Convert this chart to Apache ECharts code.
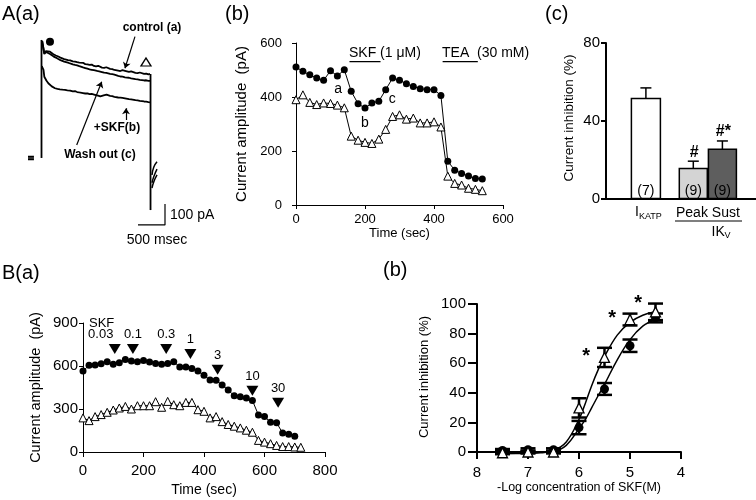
<!DOCTYPE html>
<html>
<head>
<meta charset="utf-8">
<script src="https://cdn.jsdelivr.net/npm/echarts@6.0.0/dist/echarts.min.js"></script>
<style>
html, body { margin: 0; padding: 0; background: #fff; }
#main { width: 756px; height: 500px; }
</style>
</head>
<body>
<div id="main"></div>
<script>
var FONT = "'Liberation Sans', Arial, sans-serif";

// ---- A(a) raw traces, time (ms) vs current (pA) ----
var ctrlT = [262, 302, 333, 370, 407, 440, 470, 515, 561, 600, 630, 670, 704, 740, 780, 830, 870, 910, 950, 985, 1019, 1060, 1100, 1140, 1180, 1220, 1260, 1300, 1333, 1370, 1410, 1450, 1481, 1520, 1560, 1600, 1630, 1670, 1710, 1750, 1796, 1830, 1870, 1910, 1944, 1990, 2030, 2070, 2106, 2150, 2190, 2230, 2259];
var ctrlI = [900, 841, 852, 846, 849, 843, 837, 831, 826, 821, 819, 814, 815, 809, 808, 803, 802, 799, 797, 793, 796, 790, 789, 786, 788, 781, 779, 782, 776, 773, 772, 775, 769, 767, 766, 762, 764, 759, 757, 761, 758, 752, 753, 755, 751, 748, 747, 750, 745, 743, 745, 741, 743];
var washI = [900, 838, 848, 843, 838, 834, 827, 821, 814, 809, 806, 802, 800, 797, 793, 789, 786, 784, 780, 777, 774, 771, 768, 765, 763, 761, 759, 756, 755, 752, 749, 748, 746, 744, 742, 740, 738, 734, 731, 730, 727, 726, 725, 722, 721, 718, 717, 715, 714, 712, 713, 710, 710];
var skfT = [255, 287, 302, 340, 376, 410, 440, 470, 500, 545, 590, 640, 685, 730, 780, 830, 870, 910, 950, 985, 1019, 1060, 1100, 1140, 1180, 1240, 1296, 1340, 1365, 1400, 1426, 1455, 1481, 1520, 1560, 1600, 1630, 1670, 1710, 1750, 1796, 1830, 1870, 1910, 1944, 1990, 2030, 2070, 2106, 2150, 2190, 2230, 2259];
var skfI = [780, 762, 730, 712, 699, 690, 684, 678, 675, 672, 670, 668, 667, 665, 664, 660, 661, 657, 655, 656, 652, 650, 651, 647, 648, 644, 640, 636, 632, 641, 648, 645, 640, 639, 637, 634, 633, 631, 630, 629, 627, 624, 623, 622, 619, 618, 617, 615, 614, 612, 611, 609, 608];
var holdT = [0, 110];
var holdI = [350, 343, 336];
var stepOnT = 250, stepOffT = 2269;
var stepTopI = 905, stepEndI = 95;
var tailT = [2296, 2330, 2389];
var tailI = [[200, 230, 262], [225, 255, 290], [262, 300, 325]];
var scaleT = [2037, 2537];
var scaleI = [24, 124];
var arrowFrom = [[1981, 921], [902, 405], [1815, 524]];
var arrowTo = [[1796, 770], [1365, 706], [1815, 580]];

// ---- A(b) time course ----
var abTime = [0, 20, 40, 60, 80, 100, 120, 140, 160, 180, 200, 220, 240, 260, 280, 300, 320, 340, 360, 380, 400, 420, 440, 460, 480, 500, 520, 540];
var abCirc = [511, 495, 482, 470, 462, 497, 478, 501, 421, 375, 359, 378, 384, 427, 470, 462, 449, 439, 431, 427, 427, 406, 162, 129, 117, 107, 98, 96];
var abTri = [390, 408, 380, 372, 378, 376, 370, 360, 255, 240, 232, 228, 244, 280, 328, 334, 318, 322, 304, 304, 308, 289, 107, 80, 74, 62, 58, 53];
var skfOn = [155, 245];
var teaOn = [425, 527];
var drugLevel = 531;
var abMarkT = [122, 200, 279];
var abMarkV = [430, 304, 393];
var abMarkTxt = ['a', 'b', 'c'];

// ---- A(c) bars ----
var barPos = [1.33, 2.91, 3.88];
var barMean = [51.4, 15.4, 25.3];
var barSem = [5.5, 3.8, 4.3];
var barN = ['(7)', '(9)', '(9)'];
var barSig = ['', '#', '#*'];

// ---- B(a) time course ----
var baTime = [0, 20, 40, 60, 80, 100, 120, 140, 160, 180, 200, 220, 240, 260, 280, 300, 320, 340, 360, 380, 400, 420, 440, 460, 480, 500, 520, 540, 560, 580, 600, 620, 640, 660, 680, 700, 720];
var baCirc = [565, 605, 607, 616, 630, 612, 623, 646, 635, 630, 639, 628, 618, 612, 618, 630, 593, 593, 582, 565, 535, 503, 500, 468, 432, 392, 385, 376, 360, 258, 247, 208, 204, 132, 124, 110];
var baTri = [238, 219, 247, 261, 277, 293, 307, 318, 300, 323, 323, 323, 351, 312, 353, 330, 323, 346, 346, 295, 284, 238, 247, 212, 192, 180, 168, 152, 138, 81, 69, 58, 46, 38, 38, 35, 33];
var doseT = [105, 165, 275, 355, 445, 560, 645];
var doseLevel = [719, 719, 719, 684, 573, 428, 344];
var doseTxt = ['0.03', '0.1', '0.3', '1', '3', '10', '30'];

// ---- B(b) dose response ----
var logC = [7.5, 7, 6.5, 6, 5.5, 5, 4.5];
var circMean = [1, 1.5, 1.5, 16.5, 42.6, 71.8, 90.6];
var circSem = [1, 1, 1, 4.5, 4, 4.2, 3];
var triMean = [-0.5, 0, 0, 29.8, 63.9, 89.5, 94.7];
var triSem = [1, 1, 1, 6.5, 6.5, 4, 5.6];
var fitX = [7.5, 7, 6.75, 6.5, 6.25, 6, 5.875, 5.75, 5.625, 5.5, 5.25, 5, 4.75, 4.5];
var fitTri = [-1, -1, -0.5, 1, 6.8, 22, 33, 45, 55.5, 64.5, 79, 87.6, 92.4, 94.7];
var fitCirc = [-1, -0.5, 0, 0.5, 4.5, 15.8, 22, 30, 38, 45.7, 62.3, 75.9, 85, 89.5];
var starX = [5.86, 5.35, 4.84];
var starY = [67, 93, 103];

function zip(a, b) {
    return a.map(function (v, i) { return [v, b[i]]; });
}

function txt(s, x, y, size, align, bold, rot) {
    return {
        type: 'text', x: x, y: y, z: 100, rotation: rot || 0,
        style: {
            text: s, fontSize: size, fontFamily: FONT, fontWeight: bold ? 'bold' : 'normal',
            fill: '#000', align: align || 'left', verticalAlign: 'middle',
            textAlign: align || 'left', textVerticalAlign: 'middle'
        }
    };
}

function axis(gi, o) {
    var a = {
        gridIndex: gi, type: 'value',
        axisLine: { show: true, onZero: false, lineStyle: { color: '#000', width: o.lw || 1 } },
        axisTick: { show: o.tick !== false, length: o.tickLen || 4, lineStyle: { color: '#000', width: o.lw || 1 } },
        axisLabel: { show: o.label !== false, color: '#000', fontSize: o.fs || 14, fontFamily: FONT, margin: o.margin || 6 },
        splitLine: { show: false },
        min: o.min, max: o.max, interval: o.interval, inverse: !!o.inverse
    };
    if (o.name) {
        a.name = o.name;
        a.nameLocation = 'middle';
        a.nameGap = o.nameGap;
        a.nameTextStyle = { color: '#000', fontSize: o.nameSize || 14, fontFamily: FONT };
    }
    return a;
}

var black = '#000';
var blackLine = function (w) { return { color: black, width: w || 1, opacity: 1 }; };
var solid = { color: black, opacity: 1 };
var hollow = { color: '#fff', borderColor: black, borderWidth: 1, opacity: 1 };

var series = [];

// A(a) traces
series.push({ type: 'line', xAxisIndex: 0, yAxisIndex: 0, showSymbol: false, data: zip(ctrlT, ctrlI), lineStyle: blackLine(1.8) });
series.push({ type: 'line', xAxisIndex: 0, yAxisIndex: 0, showSymbol: false, data: zip(ctrlT, washI), lineStyle: blackLine(1.8) });
series.push({ type: 'line', xAxisIndex: 0, yAxisIndex: 0, showSymbol: false, data: zip(skfT, skfI), lineStyle: blackLine(1.8) });
holdI.forEach(function (v) {
    series.push({ type: 'line', xAxisIndex: 0, yAxisIndex: 0, showSymbol: false, data: [[holdT[0], v], [holdT[1], v]], lineStyle: blackLine(1.4) });
});
series.push({ type: 'line', xAxisIndex: 0, yAxisIndex: 0, showSymbol: false, data: [[stepOnT, holdI[1]], [stepOnT, stepTopI]], lineStyle: blackLine(1.8) });
series.push({ type: 'line', xAxisIndex: 0, yAxisIndex: 0, showSymbol: false, data: [[stepOffT, ctrlI[ctrlI.length - 1]], [stepOffT, stepEndI]], lineStyle: blackLine(1.8) });
tailI.forEach(function (arr) {
    series.push({ type: 'line', xAxisIndex: 0, yAxisIndex: 0, showSymbol: false, smooth: true, data: zip(tailT, arr), lineStyle: blackLine(1.5) });
});
series.push({ type: 'line', xAxisIndex: 0, yAxisIndex: 0, showSymbol: false,
    data: [[scaleT[0], scaleI[0]], [scaleT[1], scaleI[0]], [scaleT[1], scaleI[1]]], lineStyle: blackLine(1.2) });
series.push({ type: 'lines', coordinateSystem: 'cartesian2d', xAxisIndex: 0, yAxisIndex: 0,
    symbol: ['none', 'arrow'], symbolSize: 6, lineStyle: { color: black, width: 1.2, opacity: 1 },
    data: arrowFrom.map(function (f, i) { return { coords: [f, arrowTo[i]] }; }) });
series.push({ type: 'scatter', xAxisIndex: 0, yAxisIndex: 0, symbol: 'circle', symbolSize: 8,
    itemStyle: solid, data: [[407, 897]] });
series.push({ type: 'scatter', xAxisIndex: 0, yAxisIndex: 0, symbol: 'triangle', symbolSize: [10, 8],
    itemStyle: { color: '#fff', borderColor: black, borderWidth: 1.3, opacity: 1 }, data: [[2185, 800]] });

// A(b)
series.push({ type: 'line', xAxisIndex: 1, yAxisIndex: 1, data: zip(abTime, abCirc), symbol: 'circle', symbolSize: 7,
    itemStyle: solid, lineStyle: blackLine(1), z: 3 });
series.push({ type: 'line', xAxisIndex: 1, yAxisIndex: 1, data: zip(abTime, abTri), symbol: 'triangle', symbolSize: 8,
    itemStyle: hollow, lineStyle: blackLine(1), z: 3 });
[skfOn, teaOn].forEach(function (p) {
    series.push({ type: 'line', xAxisIndex: 1, yAxisIndex: 1, showSymbol: false, data: [[p[0], drugLevel], [p[1], drugLevel]], lineStyle: blackLine(1.3) });
});
series.push({ type: 'scatter', xAxisIndex: 1, yAxisIndex: 1, symbolSize: 0, data: zip(abMarkT, abMarkV),
    itemStyle: solid,
    label: { show: true, position: 'inside', color: black, fontSize: 14, fontFamily: FONT,
        formatter: function (p) { return abMarkTxt[p.dataIndex]; } } });

// A(c) bars with error bars
var barColors = ['#ffffff', '#d4d4d4', '#5e5e5e'];
var barWidths = [29, 28, 28];
series.push({
    type: 'custom', xAxisIndex: 2, yAxisIndex: 2,
    data: barPos.map(function (x, i) { return [x, barMean[i], barSem[i]]; }),
    renderItem: function (params, api) {
        var i = params.dataIndex;
        var x = api.value(0), m = api.value(1), s = api.value(2);
        var base = api.coord([x, 0]), top = api.coord([x, m]), et = api.coord([x, m + s]);
        var w = barWidths[i];
        var st = { stroke: black, lineWidth: 1.5 };
        return { type: 'group', children: [
            { type: 'line', shape: { x1: et[0], y1: top[1], x2: et[0], y2: et[1] }, style: st },
            { type: 'line', shape: { x1: et[0] - 5.5, y1: et[1], x2: et[0] + 5.5, y2: et[1] }, style: st },
            { type: 'rect', shape: { x: base[0] - w / 2, y: top[1], width: w, height: base[1] - top[1] },
                style: { fill: barColors[i], stroke: black, lineWidth: 1.5 } },
            { type: 'text', x: base[0], y: base[1] - 7,
                style: { text: barN[i], fontSize: 14, fontFamily: FONT, fill: black, align: 'center', verticalAlign: 'middle', textAlign: 'center', textVerticalAlign: 'middle' } },
            { type: 'text', x: et[0] + 1, y: et[1] - 9,
                style: { text: barSig[i], fontSize: 16, fontWeight: 'bold', fontFamily: FONT, fill: black, align: 'center', verticalAlign: 'middle', textAlign: 'center', textVerticalAlign: 'middle' } }
        ] };
    }
});

// B(a)
series.push({ type: 'line', xAxisIndex: 3, yAxisIndex: 3, data: zip(baTime, baCirc), symbol: 'circle', symbolSize: 7,
    itemStyle: solid, lineStyle: blackLine(1), z: 3 });
series.push({ type: 'line', xAxisIndex: 3, yAxisIndex: 3, data: zip(baTime, baTri), symbol: 'triangle', symbolSize: 8,
    itemStyle: hollow, lineStyle: blackLine(1), z: 3 });
series.push({ type: 'scatter', xAxisIndex: 3, yAxisIndex: 3, symbol: 'triangle', symbolRotate: 180, symbolSize: [12, 10],
    itemStyle: solid,
    data: doseT.map(function (t, i) {
        return { value: [t, doseLevel[i]], label: { offset: i === 0 ? [-14, 0] : [0, 0] } };
    }),
    label: { show: true, position: 'top', distance: 3, color: black, fontSize: 13, fontFamily: FONT,
        formatter: function (p) { return doseTxt[p.dataIndex]; } } });

// B(b)
function errItem(params, api) {
    var x = api.value(0), m = api.value(1), s = api.value(2);
    var hi = api.coord([x, m + s]), lo = api.coord([x, m - s]);
    var hw = 7.5, st = { stroke: black, lineWidth: 2.5 };
    return { type: 'group', children: [
        { type: 'line', shape: { x1: hi[0], y1: hi[1], x2: lo[0], y2: lo[1] }, style: st },
        { type: 'line', shape: { x1: hi[0] - hw, y1: hi[1], x2: hi[0] + hw, y2: hi[1] }, style: st },
        { type: 'line', shape: { x1: lo[0] - hw, y1: lo[1], x2: lo[0] + hw, y2: lo[1] }, style: st }
    ] };
}
series.push({ type: 'custom', xAxisIndex: 4, yAxisIndex: 4, renderItem: errItem, z: 1,
    data: logC.map(function (x, i) { return [x, circMean[i], circSem[i]]; }) });
series.push({ type: 'custom', xAxisIndex: 4, yAxisIndex: 4, renderItem: errItem, z: 1,
    data: logC.map(function (x, i) { return [x, triMean[i], triSem[i]]; }) });
series.push({ type: 'line', xAxisIndex: 4, yAxisIndex: 4, showSymbol: false, smooth: 0.4, clip: false, z: 2,
    data: zip(fitX, fitTri), lineStyle: blackLine(1.5) });
series.push({ type: 'line', xAxisIndex: 4, yAxisIndex: 4, showSymbol: false, smooth: 0.4, clip: false, z: 2,
    data: zip(fitX, fitCirc), lineStyle: blackLine(1.5) });
series.push({ type: 'scatter', xAxisIndex: 4, yAxisIndex: 4, symbol: 'circle', symbolSize: 9, clip: false, z: 3,
    itemStyle: solid, data: zip(logC, circMean) });
series.push({ type: 'scatter', xAxisIndex: 4, yAxisIndex: 4, symbol: 'triangle', symbolSize: 10, clip: false, z: 4,
    itemStyle: { color: '#fff', borderColor: black, borderWidth: 1.3, opacity: 1 }, data: zip(logC, triMean) });
series.push({ type: 'scatter', xAxisIndex: 4, yAxisIndex: 4, symbolSize: 0, clip: false, data: zip(starX, starY),
    itemStyle: solid,
    label: { show: true, position: 'inside', offset: [0, 4], color: black, fontSize: 20, fontWeight: 'bold', fontFamily: FONT,
        formatter: '*' } });

var option = {
    animation: false,
    backgroundColor: '#fff',
    textStyle: { fontFamily: FONT },
    grid: [
        { left: 28, top: 20, width: 162, height: 210 },
        { left: 296, top: 43, width: 207, height: 162 },
        { left: 606, top: 43, width: 150, height: 155.5 },
        { left: 83, top: 323, width: 242, height: 129 },
        { left: 477, top: 304, width: 204, height: 148 }
    ],
    xAxis: [
        { gridIndex: 0, type: 'value', min: 0, max: 3000, show: false },
        axis(1, { min: 0, max: 600, interval: 200, fs: 13, margin: 8, name: 'Time (sec)', nameGap: 21, nameSize: 13 }),
        axis(2, { min: 0, max: 5, tick: false, label: false, lw: 2 }),
        axis(3, { min: 0, max: 800, interval: 200, fs: 15, margin: 11, tickLen: 5, name: 'Time (sec)', nameGap: 31, nameSize: 14 }),
        axis(4, { min: 4, max: 8, interval: 1, inverse: true, fs: 15, margin: 13, tickLen: 7, lw: 2, name: '-Log concentration of SKF(M)', nameGap: 25, nameSize: 12.5 })
    ],
    yAxis: [
        { gridIndex: 0, type: 'value', min: 0, max: 1000, show: false },
        axis(1, { min: 0, max: 600, interval: 200, fs: 13, margin: 14, name: 'Current amplitude  (pA)', nameGap: 47, nameSize: 15 }),
        axis(2, { min: 0, max: 80, interval: 40, fs: 15, margin: 6, tickLen: 5, lw: 2 }),
        axis(3, { min: 0, max: 900, interval: 300, fs: 15, margin: 5, tickLen: 4, name: 'Current amplitude  (pA)', nameGap: 40, nameSize: 14.5 }),
        axis(4, { min: 0, max: 100, interval: 20, fs: 15, margin: 11, tickLen: 9, lw: 2 })
    ],
    series: series,
    graphic: [
        txt('A(a)', 2, 14, 20),
        txt('(b)', 225, 14, 20),
        txt('(c)', 545, 14, 20),
        txt('B(a)', 2, 273, 20),
        txt('(b)', 383, 270, 20),
        txt('control (a)', 152, 28, 12, 'center', true),
        txt('+SKF(b)', 117, 128, 12, 'center', true),
        txt('Wash out (c)', 100, 155, 12, 'center', true),
        txt('100 pA', 170, 215, 14),
        txt('500 msec', 157, 240, 14, 'center'),
        txt('SKF (1 \u03bcM)', 349, 53, 14),
        txt('TEA  (30 mM)', 442, 53, 14),
        txt('SKF', 89, 323, 13),
        txt('Current inhibition (%)', 569, 118, 13.5, 'center', false, Math.PI / 2),
        txt('Current inhibition (%)', 424, 377, 13, 'center', false, Math.PI / 2),
        txt('I', 635, 212, 14),
        txt('KATP', 639, 217, 9),
        txt('Peak Sust', 676, 213, 14),
        { type: 'line', z: 100, shape: { x1: 675, y1: 221, x2: 742, y2: 221 }, style: { stroke: black, lineWidth: 1.2 } },
        txt('IK', 711.5, 232, 14),
        txt('V', 724.5, 236, 9)
    ]
};

var chart = echarts.init(document.getElementById('main'), null, { renderer: 'canvas' });
chart.setOption(option);
</script>
</body>
</html>
